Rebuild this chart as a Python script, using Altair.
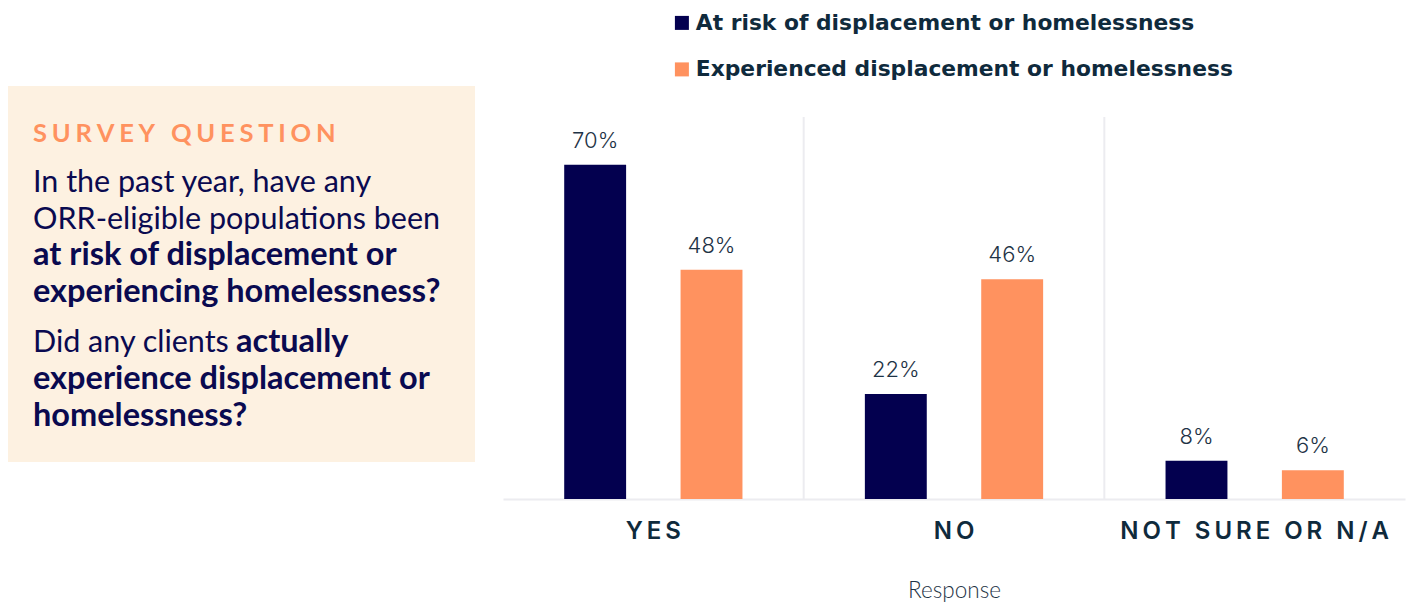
import altair as alt
import pandas as pd

# ---------------- data ----------------
categories = ["YES", "NO", "NOT SURE OR N/A"]
series_names = [
    "At risk of displacement or homelessness",
    "Experienced displacement or homelessness",
]
at_risk = [70, 22, 8]
experienced = [48, 46, 6]

question_label = "SURVEY QUESTION"
question_regular_1 = ["In the past year, have any", "ORR-eligible populations been"]
question_bold_1 = ["at risk of displacement or", "experiencing homelessness?"]
question_regular_2 = "Did any clients"
question_bold_2_inline = "actually"
question_bold_2 = ["experience displacement or", "homelessness?"]

rows = []
for c, a, e in zip(categories, at_risk, experienced):
    rows.append({"Response": c, "Series": series_names[0], "Value": a})
    rows.append({"Response": c, "Series": series_names[1], "Value": e})
df = pd.DataFrame(rows)
df["Label"] = df["Value"].astype(str) + "%"

# ---------------- style ----------------
NAVY = "#03004f"
ORANGE = "#ff925f"
TEXT_DARK = "#0f2a3c"
TEXT_MID = "#1e3346"
BOX = "#fdf1e1"
GRID = "#ececf0"
W, H = 902, 382
THIN = "\u2009"
HAIR = "\u200a"

x_axis = alt.Axis(
    title="Response",
    labelExpr="join(split(datum.label, ''), '" + THIN + "')",
    labelFont="Inter", labelFontSize=24, labelFontWeight=600, labelColor=TEXT_DARK,
    labelPadding=20, labelAngle=0, labelLimit=500,
    ticks=False, grid=False, domainColor=GRID, domainWidth=2,
    titleFont="Lato", titleFontSize=22.5, titleFontWeight=300, titleColor=TEXT_MID,
    titlePadding=36,
)
x_scale = alt.Scale(domain=categories, paddingInner=0, paddingOuter=0)
x_enc = alt.X("Response:N", scale=x_scale, axis=x_axis)
xoff = alt.XOffset("Series:N", scale=alt.Scale(domain=series_names, paddingInner=0.468, paddingOuter=0.526))
y_enc = alt.Y("Value:Q", scale=alt.Scale(domain=[0, 80]), axis=None)

base = alt.Chart(df)

bars = base.mark_bar().encode(
    x=x_enc, xOffset=xoff, y=y_enc,
    color=alt.Color(
        "Series:N",
        scale=alt.Scale(domain=series_names, range=[NAVY, ORANGE]),
        legend=alt.Legend(
            title=None, orient="none", legendX=168, legendY=-105, direction="vertical",
            symbolType="square", symbolSize=196, symbolStrokeWidth=0,
            labelFont="DejaVu Sans", labelFontSize=21.8, labelFontWeight=600, labelColor=TEXT_DARK,
            rowPadding=23.5, labelOffset=3, padding=0, labelLimit=800,
        ),
    ),
)

value_labels = base.mark_text(
    font="Inter", fontSize=22, fontWeight=300, color=TEXT_MID, baseline="alphabetic", dy=-17
).encode(x=x_enc, xOffset=xoff, y=y_enc, text="Label:N")

sep_df = pd.DataFrame({"Response": categories[1:]})
separators = alt.Chart(sep_df).mark_rule(color=GRID, strokeWidth=2).encode(
    x=alt.X("Response:N", scale=x_scale, axis=x_axis, bandPosition=0),
    y=alt.value(0), y2=alt.value(H),
)

one = pd.DataFrame({"k": [0]})
box = alt.Chart(one).mark_rect(color=BOX).encode(
    x=alt.value(-495), x2=alt.value(-28), y=alt.value(-31), y2=alt.value(345)
)

TX = -470
LH = 36.5
BOLD_SIZE = 32.5


def txt(lines, y, weight, color="#0a0a50", size=30.5, x=TX, font="Lato"):
    return alt.Chart(one).mark_text(
        align="left", baseline="alphabetic", font=font, fontSize=size,
        fontWeight=weight, color=color, lineHeight=LH,
    ).encode(x=alt.value(x), y=alt.value(y), text=alt.value(lines))


annotations = [
    txt((THIN + HAIR).join(list(question_label)), 25, 700, color=ORANGE, size=25.5),
    txt(question_regular_1, 75, 400),
    txt(question_bold_1, 148, 700, size=BOLD_SIZE),
    txt(question_regular_2, 235, 400),
    txt(question_bold_2_inline, 235, 700, x=-267, size=BOLD_SIZE),
    txt(question_bold_2, 272, 700, size=BOLD_SIZE),
]

chart = alt.layer(box, *annotations, separators, bars, value_labels).properties(
    width=W, height=H,
    padding={"left": 503, "top": 117, "right": 4, "bottom": 103},
    autosize=alt.AutoSizeParams(type="none"),
    background="white",
).configure_view(stroke=None)

chart.save("out.html", embed_options={"renderer": "svg", "actions": False})
